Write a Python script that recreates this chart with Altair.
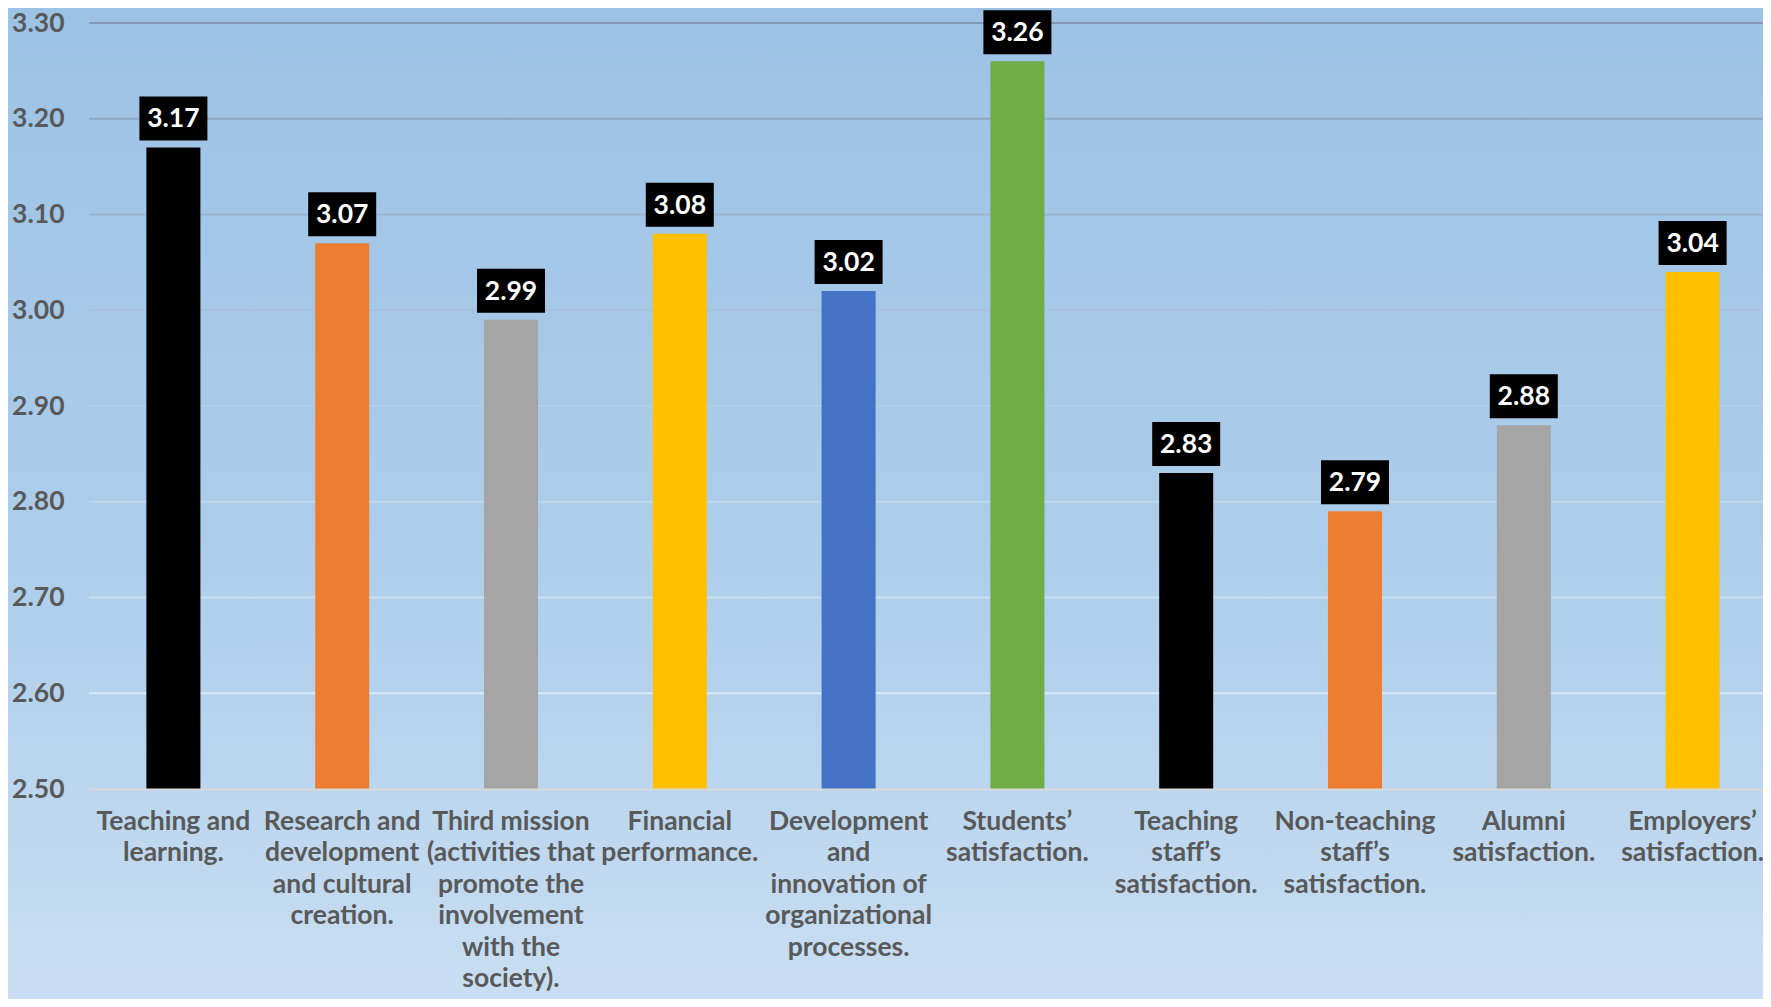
import altair as alt
import pandas as pd

CATEGORIES = [
    "Teaching and|learning.",
    "Research and|development|and cultural|creation.",
    "Third mission|(activities that|promote the|involvement|with the|society).",
    "Financial|performance.",
    "Development|and|innovation of|organizational|processes.",
    "Students’|satisfaction.",
    "Teaching|staff’s|satisfaction.",
    "Non-teaching|staff’s|satisfaction.",
    "Alumni|satisfaction.",
    "Employers’|satisfaction.",
]
VALUES = [3.17, 3.07, 2.99, 3.08, 3.02, 3.26, 2.83, 2.79, 2.88, 3.04]
COLORS = ["#000000", "#ED7D31", "#A5A5A5", "#FFC000", "#4472C4",
          "#70AD47", "#000000", "#ED7D31", "#A5A5A5", "#FFC000"]
Y_TICKS = [2.50, 2.60, 2.70, 2.80, 2.90, 3.00, 3.10, 3.20, 3.30]
GRID_TICKS = [2.60, 2.70, 2.80, 2.90, 3.00, 3.10, 3.20, 3.30]

W, H = 1674, 766
X_RANGE = 1688
PAD = {"left": 81, "top": 15, "right": 0, "bottom": 210}

df = pd.DataFrame({"category": CATEGORIES, "value": VALUES})
grid_df = pd.DataFrame({"tick": GRID_TICKS})
bg_df = pd.DataFrame({"a": [0]})

FONT = "Lato"
TXT = "#595959"

x_enc = alt.X(
    "category:N", sort=CATEGORIES,
    scale=alt.Scale(paddingInner=0.68, paddingOuter=0.34, range=[0, X_RANGE]),
    axis=alt.Axis(
        title=None, labelAngle=0, labelExpr="split(datum.label, '|')",
        labelFont=FONT, labelFontWeight="bold", labelFontSize=26.5,
        labelColor=TXT, labelLineHeight=31.5, labelPadding=19,
        labelLimit=0, labelOverlap=False, labelBaseline="top",
        ticks=False, domain=True, domainColor="#D9D9D9", domainWidth=2,
        grid=False, zindex=1,
    ),
)
y_scale = alt.Scale(domain=[2.5, 3.3], nice=False, zero=False)
y_axis = alt.Axis(
    title=None, values=Y_TICKS, format=".2f", labelFont=FONT,
    labelFontWeight="bold", labelFontSize=26.5, labelColor=TXT,
    labelPadding=25, ticks=False, domain=False, grid=False, zindex=1,
)

bg = alt.Chart(bg_df).mark_rect(
    fill=alt.Gradient(
        gradient="linear", x1=0, y1=0, x2=0, y2=1,
        stops=[alt.GradientStop(color="#9CC2E5", offset=0),
               alt.GradientStop(color="#AFCFEB", offset=0.6),
               alt.GradientStop(color="#C9DEF2", offset=1)],
    )
).encode(
    x=alt.value(-PAD["left"]), x2=alt.value(W + PAD["right"]),
    y=alt.value(-PAD["top"]), y2=alt.value(H + PAD["bottom"]),
)

grid = alt.Chart(grid_df).mark_rule(strokeWidth=2).encode(
    y=alt.Y("tick:Q", scale=y_scale, axis=y_axis),
    stroke=alt.Stroke("tick:Q",
                      scale=alt.Scale(domain=[2.6, 2.9, 3.3],
                                      range=["#DAE9F7", "#B2CFEA", "#8499B6"]),
                      legend=None),
)

bars = alt.Chart(df).mark_bar(clip=True).encode(
    x=x_enc,
    y=alt.Y("value:Q", scale=y_scale, axis=y_axis),
    color=alt.Color("category:N", sort=CATEGORIES,
                    scale=alt.Scale(domain=CATEGORIES, range=COLORS), legend=None),
)

BOX_PATH = "M-1,-0.647L1,-0.647L1,0.647L-1,0.647Z"
boxes = alt.Chart(df).mark_point(
    shape=BOX_PATH, size=4624, filled=True, color="#000000", opacity=1,
    strokeWidth=0, yOffset=-29,
).encode(x=x_enc, y=alt.Y("value:Q", scale=y_scale, axis=y_axis))

labels = alt.Chart(df).mark_text(
    font=FONT, fontWeight="bold", fontSize=26.5, color="#FFFFFF",
    baseline="middle", align="center", yOffset=-28,
).encode(
    x=x_enc, y=alt.Y("value:Q", scale=y_scale, axis=y_axis),
    text=alt.Text("value:Q", format=".2f"),
)

chart = alt.layer(bg, grid, bars, boxes, labels).properties(
    width=W, height=H,
    autosize=alt.AutoSizeParams(type="none"),
    padding=PAD,
    background="#9CC2E5",
).configure_view(stroke=None)

chart.save("out.html", embed_options={"renderer": "svg", "actions": False})
